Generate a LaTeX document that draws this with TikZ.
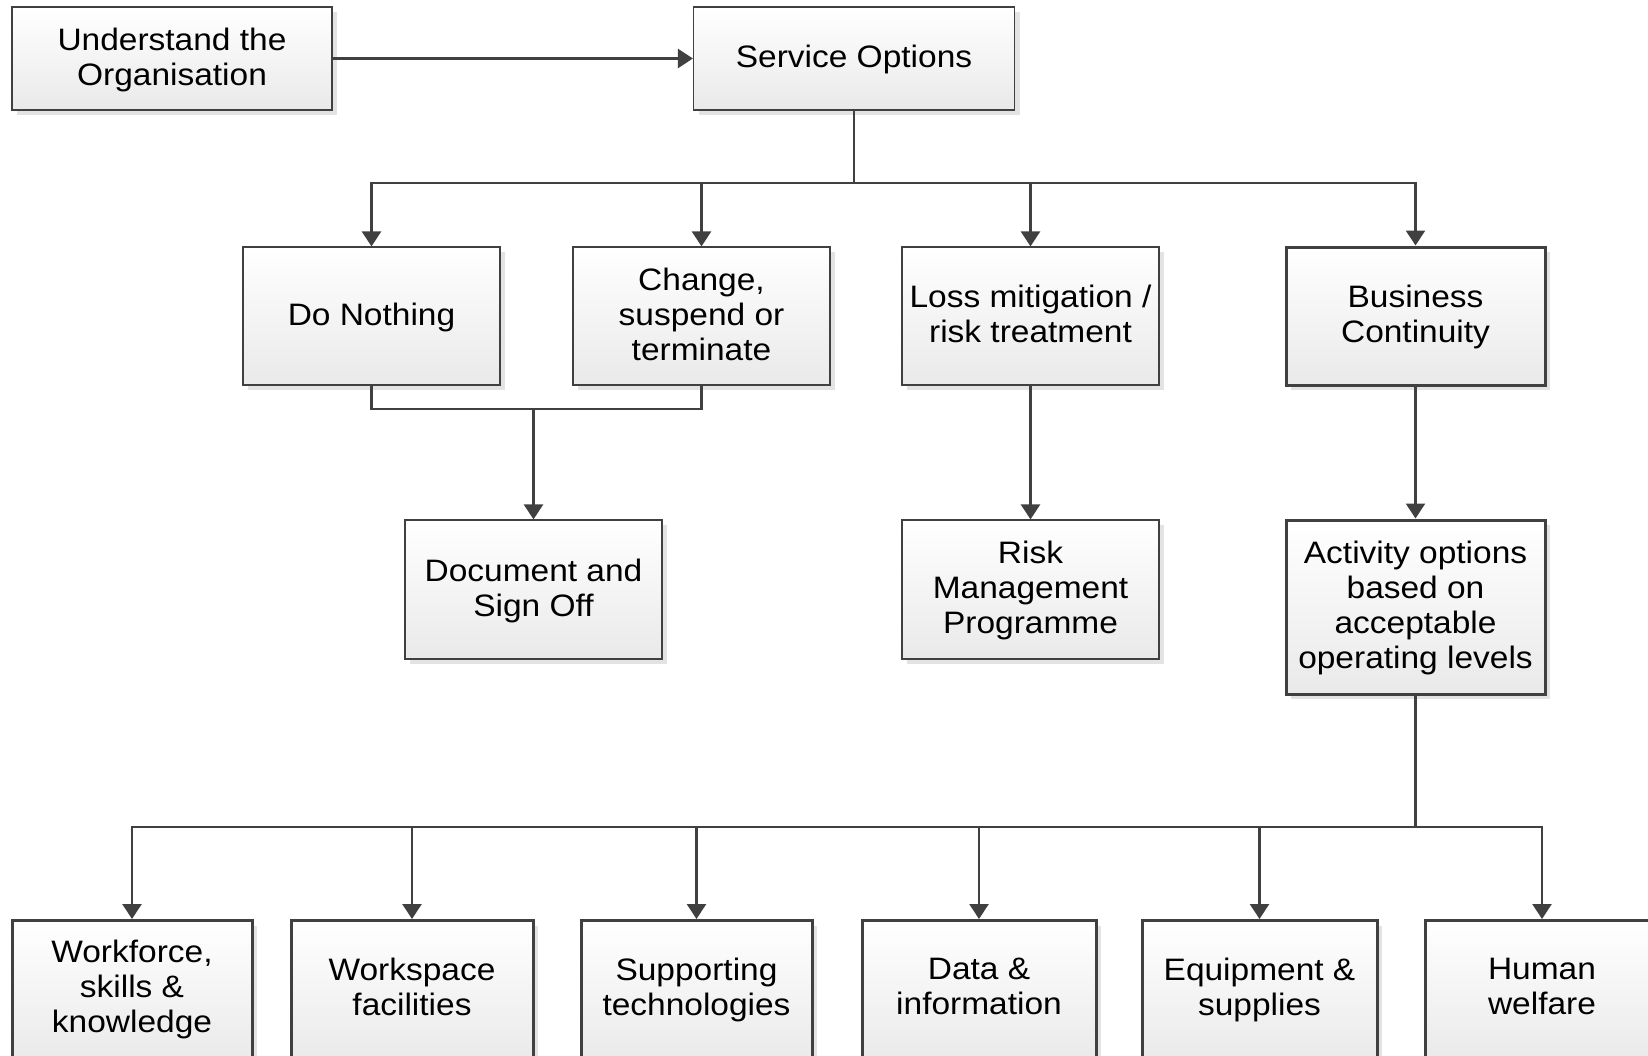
\documentclass[tikz,border=0pt]{standalone}
\usepackage{fontspec}
\setmainfont{Liberation Sans}[FakeStretch=1.08]
\usetikzlibrary{arrows.meta,shadows}
\definecolor{ln}{HTML}{404040}
\begin{document}
\begin{tikzpicture}[x=1pt,y=-1pt,
  box/.style={draw=ln, line width=1.2pt, top color=white, bottom color=gray!17,
    align=center, font=\fontsize{31}{35}\selectfont, inner sep=0pt, text depth=4pt,
    general shadow={shadow xshift=5pt, shadow yshift=-5pt, fill=gray!22}},
  thickbox/.style={box, line width=3pt},
  botbox/.style={thickbox, minimum height=142pt, anchor=north, text depth=10pt},
  conn/.style={draw=ln, line width=2.5pt},
  arr/.style={conn, -{Triangle[width=19pt,length=15pt]}}
]
\useasboundingbox (0,0) rectangle (1648,1055);
\clip (0,0) rectangle (1648,1055);

% top row
\node[box, minimum width=320pt, minimum height=103pt] (und) at (172,58.5) {Understand the\\Organisation};
\node[box, minimum width=321pt, minimum height=103pt] (svc) at (854,58.5) {Service Options};

% second row
\node[box, minimum width=257pt, minimum height=138pt] (dn) at (371.5,316) {Do Nothing};
\node[box, minimum width=257pt, minimum height=138pt] (chg) at (701.5,316) {Change,\\suspend or\\terminate};
\node[box, minimum width=257pt, minimum height=138pt] (loss) at (1030.5,316) {Loss mitigation /\\risk treatment};
\node[thickbox, minimum width=259pt, minimum height=138pt] (bc) at (1415.5,316) {Business\\Continuity};

% third row
\node[box, minimum width=257pt, minimum height=139pt] (doc) at (533.5,589.5) {Document and\\Sign Off};
\node[box, minimum width=257pt, minimum height=139pt] (risk) at (1030.5,589.5) {Risk\\Management\\Programme};
\node[thickbox, minimum width=259pt, minimum height=174pt] (act) at (1415.5,607) {Activity options\\based on\\acceptable\\operating levels};

% bottom row
\node[botbox, minimum width=240pt] (wf) at (132,919) {Workforce,\\skills \&\\knowledge};
\node[botbox, minimum width=242pt] (ws) at (412,919) {Workspace\\facilities};
\node[botbox, minimum width=231pt] (st) at (696.5,919) {Supporting\\technologies};
\node[botbox, minimum width=234pt] (di) at (979,919) {Data \&\\information};
\node[botbox, minimum width=235pt] (eq) at (1259.5,919) {Equipment \&\\supplies};
\node[botbox, minimum width=234pt] (hw) at (1542,919) {Human\\welfare};

% bus levels
\coordinate (b1) at (0,183);
\coordinate (b2) at (0,409);
\coordinate (b3) at (0,827);

% connectors
\draw[arr] (und) -- (svc);
\foreach \t in {dn,chg,loss,bc}
  \draw[arr] (svc.south) -- (svc.south |- b1) -| (\t.north);
\coordinate (m) at (doc.north |- b2);
\draw[conn] (dn.south) |- (m) -| (chg.south);
\draw[arr] (m) -- (doc.north);
\draw[arr] (loss) -- (risk);
\draw[arr] (bc) -- (act);
\foreach \t in {wf,ws,st,di,eq,hw}
  \draw[arr] (act.south) -- (act.south |- b3) -| (\t.north);
\end{tikzpicture}
\end{document}
